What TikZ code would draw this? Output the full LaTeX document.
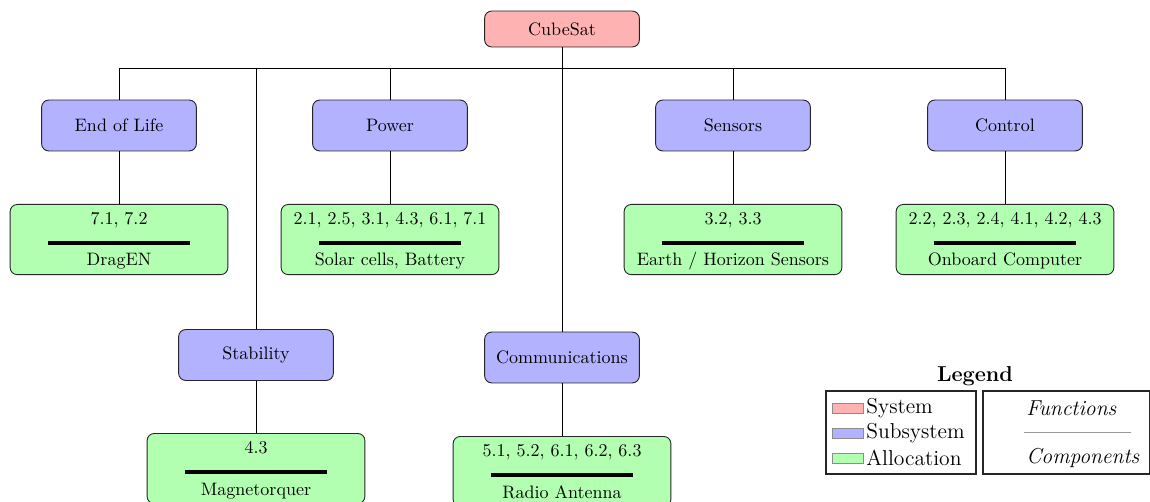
\documentclass[tikz,border=0pt]{standalone}
\usetikzlibrary{calc}
\tikzset{
  sysbox/.style={draw=black!85, line width=0.5pt, rounded corners=4pt, fill=red!30, minimum width=86pt, minimum height=20pt, inner sep=0pt},
  subbox/.style={draw=black!85, line width=0.5pt, rounded corners=4pt, fill=blue!30, minimum width=86pt, minimum height=28.3pt, inner sep=0pt},
  allocbox/.style={draw=black!85, line width=0.5pt, rounded corners=4pt, fill=green!30, minimum width=121pt, minimum height=39pt, inner sep=0pt, anchor=north},
  conn/.style={line width=0.45pt, black},
  sepline/.style={line width=1.7pt, black},
  lbltext/.style={inner sep=0pt, anchor=base},
  swatch/.style={draw=black!45, line width=0.5pt},
  legbox/.style={draw=black!85, line width=0.6pt},
  legtext/.style={inner sep=0pt, anchor=west, font=\large},
}
\newcommand{\myalloc}[5]{%
  \node[allocbox] (#1) at (#2,#3) {};
  \node[lbltext] (#1n) at ($(#2,#3)+(0,20)$) {#4};
  \draw[sepline] ($(#2,#3)+(-71,39)$) coordinate (#1l) -- ($(#2,#3)+(71,39)$) coordinate (#1r);
  \node[lbltext] (#1c) at ($(#2,#3)+(0,62)$) {#5};
}
\begin{document}
\begin{tikzpicture}[x=0.5556pt, y=-0.5556pt]
\useasboundingbox (0,0) rectangle (1150,502);

\node[sysbox] (cube) at (562,29) {CubeSat};
\coordinate (bus) at (562,68);

\node[subbox] (eol) at (119,125.5) {End of Life};
\node[subbox] (pow) at (390,125.5) {Power};
\node[subbox] (sen) at (733,125.5) {Sensors};
\node[subbox] (ctl) at (1005,125.5) {Control};
\node[subbox] (stab) at (256,355) {Stability};
\node[subbox] (comm) at (562,357.5) {Communications};

\myalloc{aeol}{119}{204}{7.1, 7.2}{DragEN}
\myalloc{apow}{390}{204}{2.1, 2.5, 3.1, 4.3, 6.1, 7.1}{Solar cells, Battery}
\myalloc{asen}{733}{204}{3.2, 3.3}{Earth / Horizon Sensors}
\myalloc{actl}{1005}{204}{2.2, 2.3, 2.4, 4.1, 4.2, 4.3}{Onboard Computer}
\myalloc{astab}{256}{433}{4.3}{Magnetorquer}
\myalloc{acomm}{562}{436}{5.1, 5.2, 6.1, 6.2, 6.3}{Radio Antenna}

\draw[conn] (cube.south) -- (bus);
\foreach \c in {eol,stab,pow,comm,sen,ctl} {
  \draw[conn] (bus) -| (\c.north);
}
\draw[conn] (eol.south) -- (aeol.north);
\draw[conn] (pow.south) -- (apow.north);
\draw[conn] (sen.south) -- (asen.north);
\draw[conn] (ctl.south) -- (actl.north);
\draw[conn] (stab.south) -- (astab.north);
\draw[conn] (comm.south) -- (acomm.north);

% Legend
\node[inner sep=0pt, font=\large\bfseries] (legtitle) at (975,376) {Legend};
\draw[legbox] (826,391) coordinate (lbA) rectangle (976,474) coordinate (lbB);
\draw[legbox] (983,391) coordinate (rbA) rectangle (1149.4,474) coordinate (rbB);
\draw[swatch, fill=red!30] (832,403) rectangle (863,413);
\draw[swatch, fill=blue!30] (832,428) rectangle (863,438);
\draw[swatch, fill=green!30] (832,453) rectangle (863,463);
\node[legtext] (lsys) at (866,408) {System};
\node[legtext] (lsub) at (866,433) {Subsystem};
\node[legtext] (lall) at (866,458) {Allocation};
\node[legtext] (lfun) at (1026,408) {\itshape Functions};
\draw[black!40, line width=0.4pt] (1024,432) coordinate (gl1) -- (1131,432) coordinate (gl2);
\node[legtext] (lcom) at (1026,458) {\itshape Components};
\end{tikzpicture}
\end{document}
